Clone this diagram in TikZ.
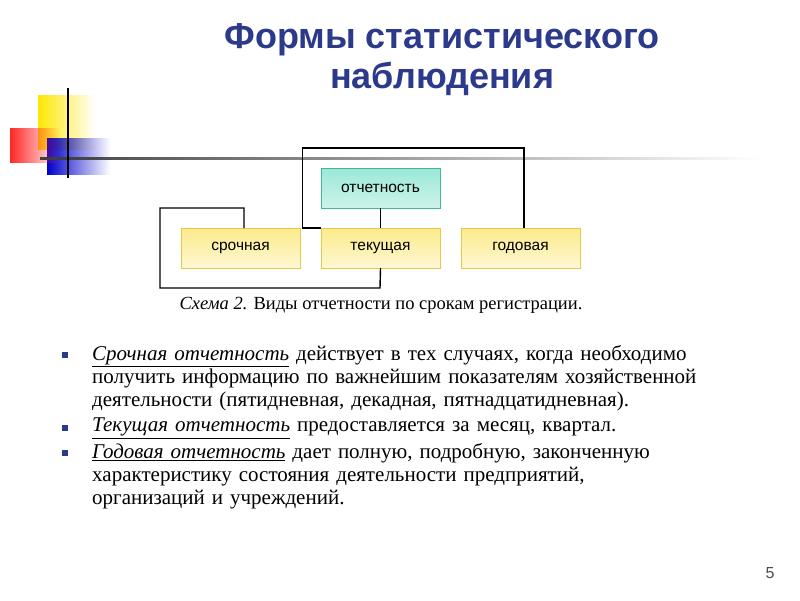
\documentclass[tikz,border=0pt]{standalone}
\usepackage{fontspec}
\setmainfont{Liberation Serif}
\setsansfont{Liberation Sans}
\usetikzlibrary{fadings}
\definecolor{ttl}{HTML}{2B3A8A}
\definecolor{bx}{HTML}{FCEB8C}
\definecolor{bxd}{HTML}{E8C84A}
\definecolor{tq}{HTML}{9BE8D6}
\definecolor{tqd}{HTML}{40B89A}
\begin{document}
\begin{tikzpicture}[x=1pt,y=-1pt,
  yb/.style={draw=bxd,top color=bx,bottom color=bx!40!white,minimum width=119pt,minimum height=40pt,inner sep=0pt,font=\sffamily\fontsize{15.5}{18}\selectfont},
  tb/.style={draw=tqd,top color=tq,bottom color=tq!50!white,minimum width=119pt,minimum height=40pt,inner sep=0pt,font=\sffamily\fontsize{15.5}{18}\selectfont},
  ln/.style={line width=1.4pt},
  bt/.style={fill=ttl,minimum size=6pt,inner sep=0pt},
  body/.style={anchor=north west,text width=660pt,inner sep=0pt,font=\fontsize{21}{23}\selectfont}]
\useasboundingbox (0,0) rectangle (800,600);
% decoration
\fill[yellow!90!orange,path fading=east] (38,95) rectangle (95,150);
\fill[blue!80!black,path fading=east] (47,138) rectangle (110,175);
\fill[red!85!white,path fading=east] (10,128) rectangle (60,163);
\fill[black!75,path fading=east] (40,157) rectangle (760,160);
\draw[line width=1.2pt] (68,88) -- (68,178);
% title
\node[font=\sffamily\bfseries\fontsize{36}{40}\selectfont,text=ttl,align=center] (title) at (442,60) {Формы статистического\\наблюдения};
% boxes
\node[tb] (otch) at (380.5,188) {отчетность};
\node[yb] (sr) at (240.5,248) {срочная};
\node[yb] (tek) at (380.5,248) {текущая};
\node[yb] (god) at (520.5,248) {годовая};
% connectors
\coordinate (a1) at (302,148);
\coordinate (a2) at (524,148);
\draw[ln] (sr.north east) ++(2,0) |- (a1) -- (a2) -- (a2 |- god.north);
\draw[ln] (sr.north east) ++(2,0) -- (tek.north west);
\draw[ln] (otch.south) -- (tek.north);
\coordinate (b1) at (160,208);
\coordinate (b2) at (160,288);
\draw[ln] (244,228) -- (244,208) -- (b1) -- (b2) -- (380,288) -- (tek.south);
% caption
\node[anchor=west,font=\fontsize{18.5}{20}\selectfont] (cap) at (176,305) {\textit{Схема 2.} Виды отчетности по срокам регистрации.};
% bullets
\node[bt] (b1n) at (65,355) {};
\node[bt] (b2n) at (65,428) {};
\node[bt] (b3n) at (65,453) {};
\node[body] (t1) at (92,345) {\underline{\textit{Срочная отчетность}} действует в тех случаях, когда необходимо получить информацию по важнейшим показателям хозяйственной деятельности (пятидневная, декадная, пятнадцатидневная).};
\node[body] (t2) at (92,418) {\underline{\textit{Текущая отчетность}} предоставляется за месяц, квартал.};
\node[body] (t3) at (92,443) {\underline{\textit{Годовая отчетность}} дает полную, подробную, законченную\newline характеристику состояния деятельности предприятий,\newline организаций и учреждений.};
\node[font=\sffamily\fontsize{16}{18}\selectfont,text=black!70] (pg) at (770,573) {5};
\end{tikzpicture}
\end{document}
